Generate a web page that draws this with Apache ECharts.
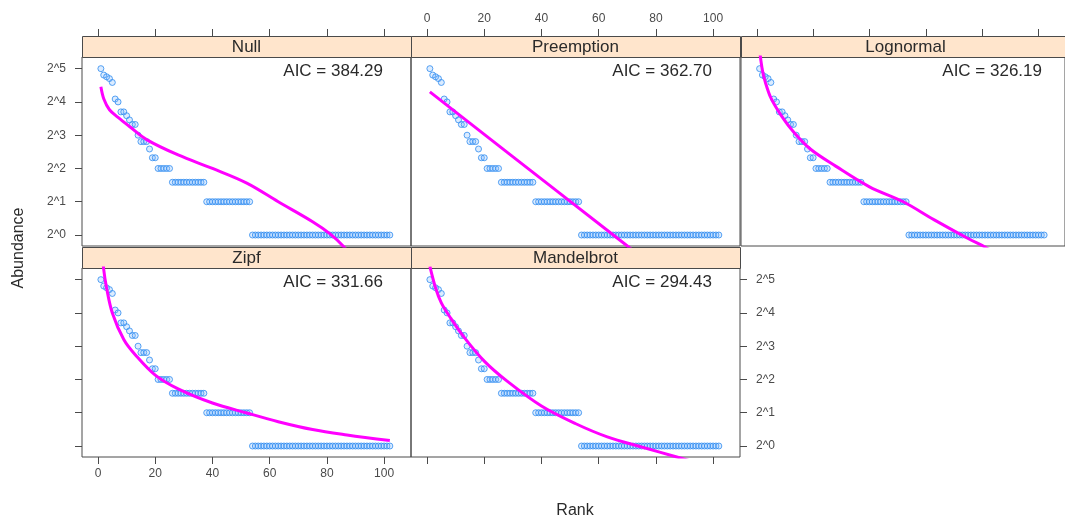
<!DOCTYPE html>
<html>
<head>
<meta charset="utf-8">
<script src="https://cdn.jsdelivr.net/npm/echarts@6/dist/echarts.min.js"></script>
<style>
html, body { margin: 0; padding: 0; background: #fff; }
#rad-chart { width: 1065px; height: 523px; }
</style>
</head>
<body>
<div id="rad-chart"></div>
<script>
// panels
const panelNames = ['Null', 'Preemption', 'Lognormal', 'Zipf', 'Mandelbrot']
const aicLabels = ['AIC = 384.29', 'AIC = 362.70', 'AIC = 326.19', 'AIC = 331.66', 'AIC = 294.43']

// observed abundances, by rank 1..102
const abundance = [
  32, 28, 27, 26, 24, 17, 16, 13, 13, 12, 11, 10, 10, 8, 7, 7, 7, 6, 5, 5,
  4, 4, 4, 4, 4,
  3, 3, 3, 3, 3, 3, 3, 3, 3, 3, 3, 3,
  2, 2, 2, 2, 2, 2, 2, 2, 2, 2, 2, 2, 2, 2, 2, 2,
  1, 1, 1, 1, 1, 1, 1, 1, 1, 1, 1, 1, 1, 1, 1, 1, 1, 1, 1, 1,
  1, 1, 1, 1, 1, 1, 1, 1, 1, 1, 1, 1, 1, 1, 1, 1, 1, 1, 1, 1,
  1, 1, 1, 1, 1, 1, 1, 1, 1
]

// fitted curves (rank, fitted abundance)
const nullRanks = [1, 2, 4, 7, 11, 17, 28, 40, 52, 63, 75, 81, 86, 90]
const nullFit = [21.9, 17.1, 13.6, 11.6, 9.6, 7.3, 5.3, 4.0, 2.95, 2.0, 1.32, 1.03, 0.78, 0.57]
const preRanks = [1, 46, 102]
const preFit = [19.7, 2.43, 0.18]
const lnRanks = [1, 2, 3, 5, 9, 13, 19, 28, 40, 52, 63, 75, 81, 90]
const lnFit = [46.9, 30.9, 24.3, 17.4, 11.7, 8.6, 6.0, 4.2, 2.73, 2.0, 1.37, 0.93, 0.78, 0.57]
const zipfRanks = [1, 2, 3, 5, 9, 13, 20, 28, 40, 52, 63, 75, 87, 102]
const zipfFit = [78.8, 39.4, 26.9, 16.0, 9.2, 6.7, 4.38, 3.29, 2.45, 1.99, 1.66, 1.41, 1.26, 1.12]
const mandRanks = [1, 3, 5, 8, 13, 20, 28, 40, 52, 63, 75, 87, 102]
const mandFit = [42.2, 26.9, 19.7, 14.7, 9.6, 5.86, 3.86, 2.3, 1.59, 1.21, 0.98, 0.80, 0.62]

const fitRanks = [nullRanks, preRanks, lnRanks, zipfRanks, mandRanks]
const fitValues = [nullFit, preFit, lnFit, zipfFit, mandFit]

// tick labels
const xTicks = [0, 20, 40, 60, 80, 100]
const yTicks = [0, 1, 2, 3, 4, 5]

const lefts = [82, 411, 741, 82, 411]
const tops = [57, 57, 57, 268, 268]
const W = 329, H = 189, STRIP = 21
const FONT = 'Liberation Sans, Arial, sans-serif'

// which side gets ticks / labels for each panel
const xSide = [
  {pos: 'top', labels: false},
  {pos: 'top', labels: true},
  {pos: 'top', labels: false},
  {pos: 'bottom', labels: true},
  {pos: 'bottom', labels: false},
]
const ySide = [
  {pos: 'left', show: true, labels: true},
  {pos: 'left', show: false, labels: false},
  {pos: 'right', show: false, labels: false},
  {pos: 'left', show: true, labels: false},
  {pos: 'right', show: true, labels: true},
]

let grids = [], xAxes = [], yAxes = [], series = [], graphics = []

for (let i = 0; i < 5; i++) {
  grids.push({
    left: lefts[i], top: tops[i], width: W, height: H,
    show: true, borderColor: '#4a4a4a', borderWidth: 1, backgroundColor: 'transparent'
  })
  xAxes.push({
    gridIndex: i, type: 'value', min: -5.6, max: 109.4,
    position: xSide[i].pos, offset: xSide[i].pos === 'top' ? STRIP : 0,
    axisLine: {show: false, onZero: false},
    axisTick: {show: true, length: 7, lineStyle: {color: '#4a4a4a'}, customValues: xTicks},
    axisLabel: {show: xSide[i].labels, color: '#4a4a4a', fontSize: 12, fontFamily: FONT, margin: 11, customValues: xTicks},
    splitLine: {show: false}
  })
  yAxes.push({
    gridIndex: i, type: 'value', min: -0.33, max: 5.35,
    position: ySide[i].pos,
    axisLine: {show: false, onZero: false},
    axisTick: {show: ySide[i].show, length: 7, lineStyle: {color: '#4a4a4a'}, customValues: yTicks},
    axisLabel: {show: ySide[i].labels, color: '#4a4a4a', fontSize: 12, fontFamily: FONT, margin: 16,
      customValues: yTicks, formatter: v => '2^' + v},
    splitLine: {show: false}
  })
  series.push({
    type: 'scatter', xAxisIndex: i, yAxisIndex: i,
    symbol: 'circle', symbolSize: 6,
    itemStyle: {color: 'rgba(130,185,255,0.35)', borderColor: '#2f8cf0', borderWidth: 1},
    data: abundance.map((a, k) => [k + 1, Math.log2(a)]),
    silent: true
  })
  series.push({
    type: 'line', xAxisIndex: i, yAxisIndex: i,
    smooth: 0.35, symbol: 'none', clip: true,
    lineStyle: {color: '#ff00ff', width: 3},
    data: fitRanks[i].map((r, k) => [r, Math.log2(fitValues[i][k])]),
    silent: true
  })
  // strip
  graphics.push({
    type: 'rect', left: lefts[i], top: tops[i] - STRIP,
    shape: {width: W, height: STRIP},
    style: {fill: '#ffe5cc', stroke: '#4a4a4a', lineWidth: 1}
  })
  graphics.push({
    type: 'text', x: lefts[i] + W / 2, y: tops[i] - STRIP / 2 + 1,
    style: {text: panelNames[i], font: '17px ' + FONT, fill: '#2a2a2a',
      align: 'center', verticalAlign: 'middle', textAlign: 'center', textVerticalAlign: 'middle'}
  })
  graphics.push({
    type: 'text', x: lefts[i] + W - 28, y: tops[i] + 14,
    style: {text: aicLabels[i], font: '17px ' + FONT, fill: '#2a2a2a',
      align: 'right', verticalAlign: 'middle', textAlign: 'right', textVerticalAlign: 'middle'}
  })
}

graphics.push({
  type: 'text', x: 575, y: 511,
  style: {text: 'Rank', font: '16px ' + FONT, fill: '#2a2a2a',
    align: 'center', verticalAlign: 'middle', textAlign: 'center', textVerticalAlign: 'middle'}
})
graphics.push({
  type: 'text', x: 19, y: 248, rotation: Math.PI / 2,
  style: {text: 'Abundance', font: '16px ' + FONT, fill: '#2a2a2a',
    align: 'center', verticalAlign: 'middle', textAlign: 'center', textVerticalAlign: 'middle'}
})

let option = {
  animation: false,
  backgroundColor: '#fff',
  grid: grids,
  xAxis: xAxes,
  yAxis: yAxes,
  series: series,
  graphic: graphics
}

let myChart = echarts.init(document.getElementById('rad-chart'))
myChart.setOption(option)
</script>
</body>
</html>
